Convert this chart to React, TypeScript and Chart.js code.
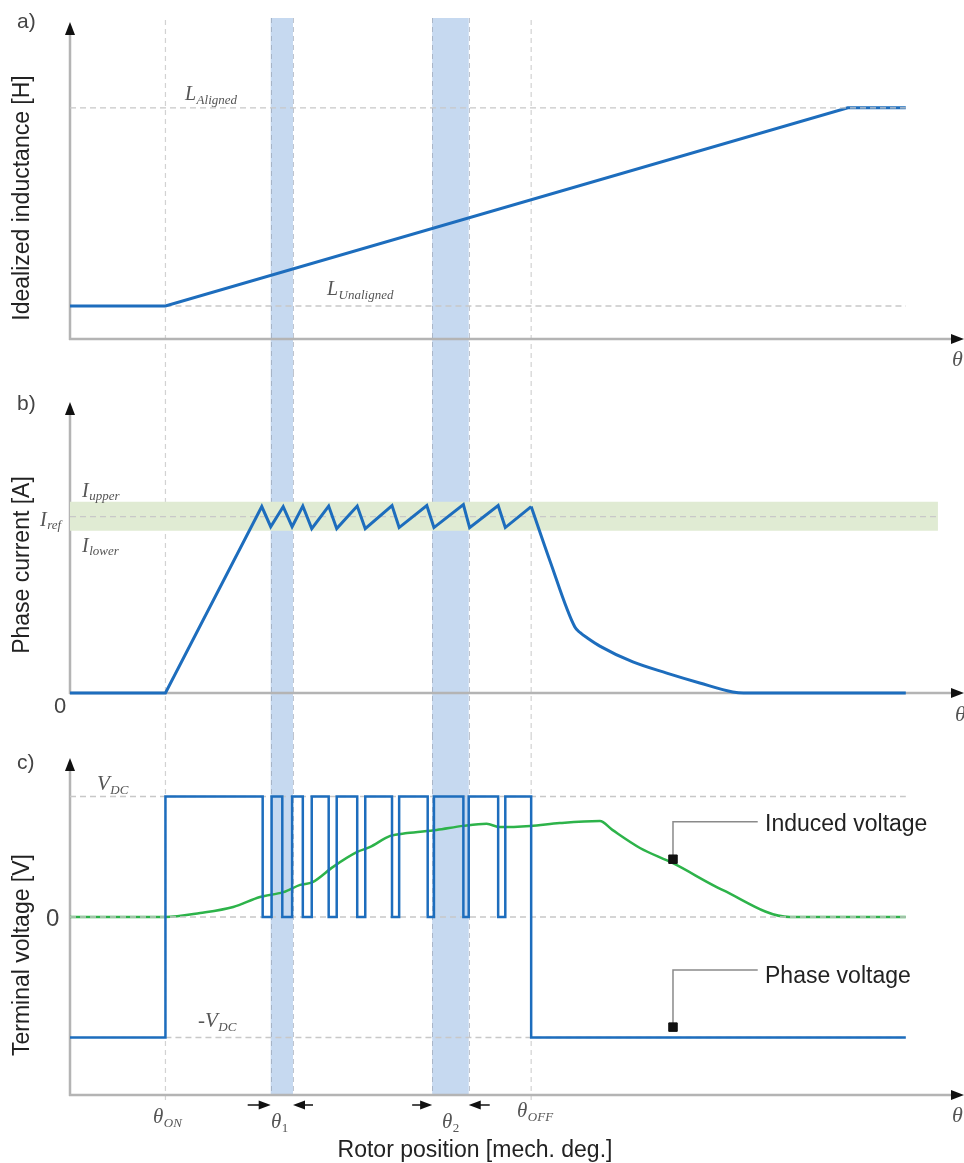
import React, { useEffect, useRef } from "react";
import { Chart, registerables } from "chart.js";

Chart.register(...registerables);

// ---------- shared rotor-position axis (0..100 = plotted travel) ----------
const X_MIN = 0;
const X_MAX = 100;
const THETA_ON = 10.7;
const THETA_OFF = 51.7;
const X_END = 93.7;
const BAND_1 = [22.5, 25.0];
const BAND_2 = [40.6, 44.7];
const GREEN_BAND_END = 97.3;

// ---------- a) idealized inductance ----------
const L_UNALIGNED = 1;
const L_ALIGNED = 7;
const inductanceX = [0, 10.7, 87.2, 93.7];
const inductanceY = [1, 1, 7, 7];

// ---------- b) phase current ----------
const I_REF = 10;
const I_UPPER = 10.85;
const I_LOWER = 9.2;
// hysteresis (chopping) part, straight segments
const chopX = [
  0, 10.7, 21.5, 22.5, 23.9, 24.9, 26.1, 27.1, 29.0, 29.9, 32.2, 33.1, 36.1,
  36.9, 40.0, 40.8, 44.1, 44.8, 48.0, 48.8, 51.7,
];
const chopY = [
  0, 0, 10.57, 9.43, 10.57, 9.43, 10.6, 9.32, 10.6, 9.32, 10.6, 9.32, 10.63,
  9.38, 10.63, 9.38, 10.68, 9.38, 10.63, 9.38, 10.57,
];
// de-magnetisation tail after turn-off
const tailX = [51.7, 53.8, 56.6, 57.2, 58.0, 59.4, 63.1, 66.9, 70.6, 74.3, 75.5, 93.7];
const tailY = [10.57, 7.5, 3.74, 3.42, 3.12, 2.66, 1.76, 1.13, 0.57, 0.06, 0, 0];

// ---------- c) terminal voltage ----------
const V_DC = 300;
const pwmOffAngles = [21.6, 23.8, 26.1, 29.0, 32.2, 36.1, 40.1, 44.1, 48.0];
const pwmOnAngles = [22.6, 24.9, 27.1, 29.9, 33.1, 36.9, 40.8, 44.7, 48.8];
const emfX = [
  0, 10.7, 14.6, 18.3, 21.3, 23.9, 25.8, 27.2, 29.5, 32.2, 33.6, 35.9, 37.8,
  41.1, 44.1, 46.7, 48.2, 51.6, 54.9, 59.4, 60.8, 63.9, 67.6, 73.2, 80.7, 93.7,
];
const emfY = [
  0, 0, 10, 25, 50, 62, 80, 87, 125, 162, 174, 202, 209, 217, 227, 232, 224,
  227, 234, 239, 217, 172, 134, 67, 0, 0,
];
const inducedLeaderX = [67.6, 67.6, 77.1];
const inducedLeaderY = [144, 237, 237];
const phaseLeaderX = [67.6, 67.6, 77.1];
const phaseLeaderY = [-274, -132, -132];

// ---------- styles ----------
const BLUE = "#1d6dbd";
const GREEN = "#2db34a";
const BAND_BLUE = "#c6d9f0";
const BAND_GREEN = "#e0ebd3";
const GRID = "#c8c8c8";
const AXIS = "#b4b4b4";
const SANS = '"Liberation Sans", Arial, Helvetica, sans-serif';
const SERIF = '"Liberation Serif", "Times New Roman", serif';

type Pt = { x: number; y: number };
const toPts = (xs: number[], ys: number[]): Pt[] =>
  xs.map((x, i) => ({ x, y: ys[i] }));

function phaseVoltagePts(): Pt[] {
  const p: Pt[] = [
    { x: X_MIN, y: -V_DC },
    { x: THETA_ON, y: -V_DC },
    { x: THETA_ON, y: V_DC },
  ];
  pwmOffAngles.forEach((off, i) => {
    const on = pwmOnAngles[i];
    p.push({ x: off, y: V_DC }, { x: off, y: 0 }, { x: on, y: 0 }, { x: on, y: V_DC });
  });
  p.push({ x: THETA_OFF, y: V_DC }, { x: THETA_OFF, y: -V_DC }, { x: X_END, y: -V_DC });
  return p;
}

function lineDs(data: Pt[], color: string, width: number, order: number, extra: any = {}) {
  return {
    data,
    borderColor: color,
    backgroundColor: color,
    borderWidth: width,
    pointRadius: 0,
    tension: 0,
    fill: false,
    order,
    clip: false as any,
    ...extra,
  };
}
const dashedDs = (data: Pt[], order: number) =>
  lineDs(data, GRID, 1.4, order, { borderDash: [6, 4] });

// ---------- drawing helpers ----------
const px = (c: any, v: number) => c.scales.x.getPixelForValue(v);
const py = (c: any, v: number) => c.scales.y.getPixelForValue(v);

function drawBands(chart: any, top: number, bottom: number) {
  const ctx = chart.ctx;
  ctx.save();
  ctx.fillStyle = BAND_BLUE;
  for (const [a, b] of [BAND_1, BAND_2]) {
    ctx.fillRect(px(chart, a), top, px(chart, b) - px(chart, a), bottom - top);
  }
  ctx.strokeStyle = "rgba(140,150,165,0.55)";
  ctx.lineWidth = 1;
  ctx.setLineDash([5, 4]);
  for (const v of [...BAND_1, ...BAND_2]) {
    const x = Math.round(px(chart, v)) + 0.5;
    ctx.beginPath();
    ctx.moveTo(x, top);
    ctx.lineTo(x, bottom);
    ctx.stroke();
  }
  ctx.restore();
}

function drawThetaLines(chart: any, top: number, bottom: number) {
  const ctx = chart.ctx;
  ctx.save();
  ctx.strokeStyle = "#d2d2d2";
  ctx.lineWidth = 1.2;
  ctx.setLineDash([5, 4]);
  for (const v of [THETA_ON, THETA_OFF]) {
    const x = px(chart, v);
    ctx.beginPath();
    ctx.moveTo(x, top);
    ctx.lineTo(x, bottom);
    ctx.stroke();
  }
  ctx.restore();
}

function drawAxes(chart: any) {
  const { left, right, top, bottom } = chart.chartArea;
  const ctx = chart.ctx;
  ctx.save();
  ctx.strokeStyle = AXIS;
  ctx.lineWidth = 2.5;
  ctx.beginPath();
  ctx.moveTo(left, top + 10);
  ctx.lineTo(left, bottom + 1);
  ctx.moveTo(left - 1, bottom);
  ctx.lineTo(right - 8, bottom);
  ctx.stroke();
  ctx.fillStyle = "#111";
  ctx.beginPath();
  ctx.moveTo(left, top);
  ctx.lineTo(left - 5, top + 13);
  ctx.lineTo(left + 5, top + 13);
  ctx.closePath();
  ctx.fill();
  ctx.beginPath();
  ctx.moveTo(right + 2, bottom);
  ctx.lineTo(right - 11, bottom - 5);
  ctx.lineTo(right - 11, bottom + 5);
  ctx.closePath();
  ctx.fill();
  ctx.restore();
}

function text(ctx: any, s: string, x: number, y: number, font: string, color: string, align = "left") {
  ctx.save();
  ctx.font = font;
  ctx.fillStyle = color;
  ctx.textAlign = align;
  ctx.textBaseline = "alphabetic";
  ctx.fillText(s, x, y);
  ctx.restore();
}

function yTitle(ctx: any, s: string, cx: number, cy: number) {
  ctx.save();
  ctx.translate(cx, cy);
  ctx.rotate(-Math.PI / 2);
  ctx.font = `23px ${SANS}`;
  ctx.fillStyle = "#222";
  ctx.textAlign = "center";
  ctx.textBaseline = "middle";
  ctx.fillText(s, 0, 0);
  ctx.restore();
}

function mathSub(ctx: any, main: string, sub: string, x: number, y: number, mainPx = 20, subPx = 13, dy = 4, subItalic = true) {
  ctx.save();
  ctx.fillStyle = "#555";
  ctx.textAlign = "left";
  ctx.textBaseline = "alphabetic";
  ctx.font = `italic ${mainPx}px ${SERIF}`;
  ctx.fillText(main, x, y);
  const w = ctx.measureText(main).width;
  ctx.font = `${subItalic ? "italic " : ""}${subPx}px ${SERIF}`;
  ctx.fillText(sub, x + w + 0.5, y + dy);
  ctx.restore();
}

function thetaAxis(ctx: any, x: number, y: number) {
  text(ctx, "θ", x, y, `italic 22px ${SERIF}`, "#555");
}

function widthArrow(ctx: any, tipX: number, tailX: number, y: number) {
  const dir = Math.sign(tipX - tailX);
  ctx.save();
  ctx.strokeStyle = "#111";
  ctx.fillStyle = "#111";
  ctx.lineWidth = 1.5;
  ctx.beginPath();
  ctx.moveTo(tailX, y);
  ctx.lineTo(tipX - dir * 8, y);
  ctx.stroke();
  ctx.beginPath();
  ctx.moveTo(tipX, y);
  ctx.lineTo(tipX - dir * 12, y - 4.5);
  ctx.lineTo(tipX - dir * 12, y + 4.5);
  ctx.closePath();
  ctx.fill();
  ctx.restore();
}

function makeChart(canvas: HTMLCanvasElement, datasets: any[], padTop: number, padBottom: number, yMin: number, yMax: number, plugin: any) {
  return new Chart(canvas, {
    type: "line",
    data: { datasets },
    options: {
      animation: false,
      responsive: false,
      devicePixelRatio: 1,
      events: [],
      layout: {
        autoPadding: false,
        padding: { left: 70, right: 2, top: padTop, bottom: padBottom },
      },
      scales: {
        x: { type: "linear", min: X_MIN, max: X_MAX, display: false },
        y: { type: "linear", min: yMin, max: yMax, display: false },
      },
      plugins: {
        legend: { display: false },
        tooltip: { enabled: false },
        title: { display: false },
      },
    } as any,
    plugins: [plugin],
  } as any);
}

// ---------- panels ----------
function buildA(canvas: HTMLCanvasElement) {
  const datasets = [
    dashedDs([{ x: X_MIN, y: L_ALIGNED }, { x: X_END, y: L_ALIGNED }], 0),
    lineDs(toPts(inductanceX, inductanceY), BLUE, 3, 1),
    dashedDs([{ x: THETA_ON, y: L_UNALIGNED }, { x: X_END, y: L_UNALIGNED }], 2),
  ];
  const plugin = {
    id: "panelA",
    beforeDatasetsDraw(chart: any) {
      drawBands(chart, 18, chart.height);
      drawThetaLines(chart, 20, chart.height);
      drawAxes(chart);
    },
    afterDatasetsDraw(chart: any) {
      const ctx = chart.ctx;
      text(ctx, "a)", 17, 28, `21px ${SANS}`, "#444");
      yTitle(ctx, "Idealized inductance [H]", 23, 198);
      mathSub(ctx, "L", "Aligned", 185, py(chart, L_ALIGNED) - 8, 20, 13, 4);
      mathSub(ctx, "L", "Unaligned", 327, py(chart, L_UNALIGNED) - 11, 20, 13, 4);
      thetaAxis(ctx, 952, 366);
    },
  };
  return makeChart(canvas, datasets, 22, 33, 0, 9.6, plugin);
}

function buildB(canvas: HTMLCanvasElement) {
  const datasets = [
    lineDs(toPts(chopX, chopY), BLUE, 3, 0),
    lineDs(toPts(tailX, tailY), BLUE, 3, 0, { cubicInterpolationMode: "monotone" }),
    dashedDs([{ x: X_MIN, y: I_REF }, { x: GREEN_BAND_END, y: I_REF }], 1),
    lineDs([{ x: X_MIN, y: I_UPPER }, { x: GREEN_BAND_END, y: I_UPPER }], BAND_GREEN, 0, 2, {
      fill: { value: I_LOWER },
      backgroundColor: BAND_GREEN,
    }),
  ];
  const plugin = {
    id: "panelB",
    beforeDatasetsDraw(chart: any) {
      drawBands(chart, 0, chart.height);
      drawThetaLines(chart, 0, chart.height);
      drawAxes(chart);
    },
    afterDatasetsDraw(chart: any) {
      const ctx = chart.ctx;
      text(ctx, "b)", 17, 38, `21px ${SANS}`, "#444");
      yTitle(ctx, "Phase current [A]", 23, 193);
      mathSub(ctx, "I", "upper", 82, py(chart, I_UPPER) - 5, 20, 13, 3);
      mathSub(ctx, "I", "ref", 40, py(chart, I_REF) + 9, 20, 13, 3);
      mathSub(ctx, "I", "lower", 82, py(chart, I_LOWER) + 21, 20, 13, 3);
      text(ctx, "0", 54, 341, `22px ${SANS}`, "#444");
      thetaAxis(ctx, 955, 349);
    },
  };
  return makeChart(canvas, datasets, 30, 42, 0, 16.5, plugin);
}

function buildC(canvas: HTMLCanvasElement) {
  const datasets = [
    lineDs([{ x: inducedLeaderX[0], y: inducedLeaderY[0] }, { x: phaseLeaderX[0], y: phaseLeaderY[0] }], "#111", 0, -1, {
      showLine: false,
      pointRadius: 6,
      pointStyle: "rect",
      pointBackgroundColor: "#111",
      pointBorderColor: "#111",
      pointBorderWidth: 1,
    }),
    lineDs(toPts(inducedLeaderX, inducedLeaderY), "#8a8a8a", 1.5, 0),
    lineDs(toPts(phaseLeaderX, phaseLeaderY), "#8a8a8a", 1.5, 0),
    lineDs(phaseVoltagePts(), BLUE, 2.5, 1),
    dashedDs([{ x: X_MIN, y: 0 }, { x: X_END, y: 0 }], 2),
    lineDs(toPts(emfX, emfY), GREEN, 2.5, 3, { cubicInterpolationMode: "monotone" }),
    dashedDs([{ x: X_MIN, y: V_DC }, { x: X_END, y: V_DC }], 4),
    dashedDs([{ x: THETA_ON, y: -V_DC }, { x: X_END, y: -V_DC }], 4),
  ];
  const plugin = {
    id: "panelC",
    beforeDatasetsDraw(chart: any) {
      const b = chart.chartArea.bottom;
      drawBands(chart, 0, b);
      drawThetaLines(chart, 0, b + 6);
      drawAxes(chart);
    },
    afterDatasetsDraw(chart: any) {
      const ctx = chart.ctx;
      text(ctx, "c)", 17, 34, `21px ${SANS}`, "#444");
      yTitle(ctx, "Terminal voltage [V]", 23, 220);
      text(ctx, "0", 46, py(chart, 0) + 9, `24px ${SANS}`, "#444");
      mathSub(ctx, "V", "DC", 97, py(chart, V_DC) - 7, 21, 13, 4);
      mathSub(ctx, "-V", "DC", 198, py(chart, -V_DC) - 11, 21, 13, 4);
      mathSub(ctx, "θ", "ON", 153, 388, 21, 13, 4);
      mathSub(ctx, "θ", "1", 271, 393, 21, 13, 4, false);
      mathSub(ctx, "θ", "2", 442, 393, 21, 13, 4, false);
      mathSub(ctx, "θ", "OFF", 517, 382, 21, 13, 4);
      thetaAxis(ctx, 952, 387);
      const ay = 370;
      widthArrow(ctx, px(chart, BAND_1[0]), px(chart, BAND_1[0]) - 23, ay);
      widthArrow(ctx, px(chart, BAND_1[1]), px(chart, BAND_1[1]) + 20, ay);
      widthArrow(ctx, px(chart, BAND_2[0]), px(chart, BAND_2[0]) - 20, ay);
      widthArrow(ctx, px(chart, BAND_2[1]), px(chart, BAND_2[1]) + 21, ay);
      text(ctx, "Rotor position [mech. deg.]", 475, 422, `23px ${SANS}`, "#222", "center");
      text(ctx, "Induced voltage", 765, py(chart, inducedLeaderY[1]) + 9, `23px ${SANS}`, "#222");
      text(ctx, "Phase voltage", 765, py(chart, phaseLeaderY[1]) + 13, `23px ${SANS}`, "#222");
    },
  };
  return makeChart(canvas, datasets, 23, 68, -443, 396, plugin);
}

export default function App() {
  const refA = useRef<HTMLCanvasElement>(null);
  const refB = useRef<HTMLCanvasElement>(null);
  const refC = useRef<HTMLCanvasElement>(null);

  useEffect(() => {
    const charts = [
      buildA(refA.current as HTMLCanvasElement),
      buildB(refB.current as HTMLCanvasElement),
      buildC(refC.current as HTMLCanvasElement),
    ];
    return () => charts.forEach((c) => c.destroy());
  }, []);

  const cv = (top: number, h: number): React.CSSProperties => ({
    position: "absolute",
    left: 0,
    top,
    width: 964,
    height: h,
    display: "block",
  });

  return (
    <div style={{ position: "absolute", left: 0, top: 0, width: 964, height: 1163, background: "#fff", overflow: "hidden" }}>
      <canvas ref={refA} width={964} height={372} style={cv(0, 372)} />
      <canvas ref={refB} width={964} height={363} style={cv(372, 363)} />
      <canvas ref={refC} width={964} height={428} style={cv(735, 428)} />
    </div>
  );
}
